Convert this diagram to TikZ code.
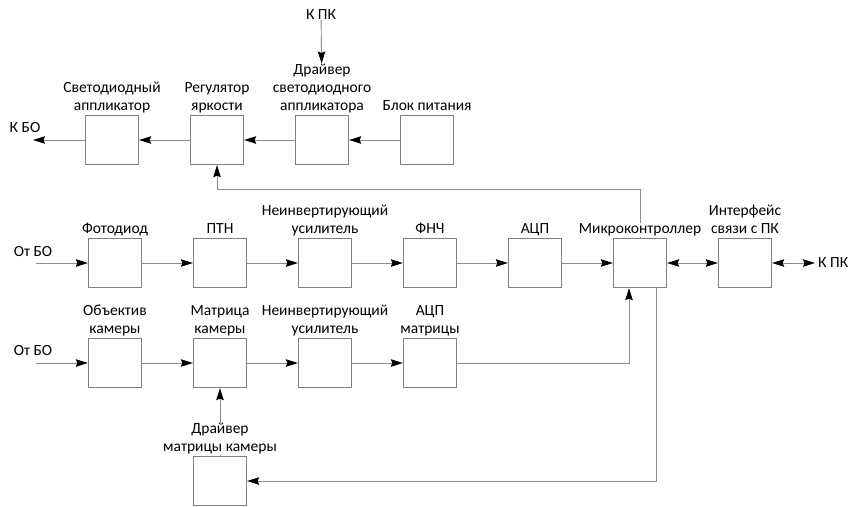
\documentclass[tikz,border=0pt]{standalone}
\usepackage{fontspec}
\setmainfont{Carlito}
\usetikzlibrary{positioning,arrows.meta}
\definecolor{boxgray}{gray}{0.5}
\definecolor{linegray}{gray}{0.55}

\begin{document}
\begin{tikzpicture}[x=1pt, y=-1pt,
        box/.style = {draw=boxgray, line width=1.3pt, minimum width=53pt, minimum height=49pt, inner sep=0pt},
        lbl/.style = {align=center, font=\fontsize{15.5}{18}\selectfont, inner sep=0pt, fill=white, text depth=3.5pt},
        txt/.style = {font=\fontsize{15.5}{18}\selectfont, inner sep=0pt},
        link/.style = {draw=linegray, line width=0.9pt},
        arr/.style = {link, -{Stealth[length=12pt, width=7.5pt, inset=1.5pt, black]}},
        darr/.style = {link, {Stealth[length=12pt, width=7.5pt, inset=1.5pt, black]}-{Stealth[length=12pt, width=7.5pt, inset=1.5pt, black]}}]
        \useasboundingbox (0,0) rectangle (858,506);
        % top row
        \node[box] (led) at (112,140) {};
        \node[box] (reg) at (217,140) {};
        \node[box] (drv) at (322,140) {};
        \node[box] (psu) at (427,140) {};
        % photodiode row
        \node[box] (phd) at (115,263) {};
        \node[box] (ptn) at (220,263) {};
        \node[box] (amp1) at (325,263) {};
        \node[box] (lpf) at (430,263) {};
        \node[box] (adc) at (535,263) {};
        \node[box] (mcu) at (640,263) {};
        \node[box] (ifc) at (745,263) {};
        % camera row
        \node[box] (lens) at (115,363) {};
        \node[box] (mtx) at (220,363) {};
        \node[box] (amp2) at (325,363) {};
        \node[box] (adc2) at (430,363) {};
        \node[box] (mdrv) at (220,481) {};
        % outer ends
        \node[txt] (kbo) at (25,128) {К БО};
        \coordinate (kboend) at (33,140);
        \node[txt] (kpk1) at (321,15) {К ПК};
        \node[txt] (in1) at (33,252) {От БО};
        \coordinate (in1end) at (36,263);
        \node[txt] (in2) at (33,351) {От БО};
        \coordinate (in2end) at (36,363);
        \node[txt, anchor=west] (kpk2) at (818,263) {К ПК};

        \draw[arr] (psu) -- (drv);
        \draw[arr] (drv) -- (reg);
        \draw[arr] (reg) -- (led);
        \draw[arr] (led) -- (kboend);
        \draw[arr] (mcu.north) -- ++(0,-48) -| (reg.south);

        \draw[arr] (in1end) -- (phd);
        \draw[arr] (phd) -- (ptn);
        \draw[arr] (ptn) -- (amp1);
        \draw[arr] (amp1) -- (lpf);
        \draw[arr] (lpf) -- (adc);
        \draw[arr] (adc) -- (mcu);
        \draw[darr] (mcu) -- (ifc);
        \draw[darr] (ifc) -- ([xshift=-3pt]kpk2.west);

        \draw[arr] (in2end) -- (lens);
        \draw[arr] (lens) -- (mtx);
        \draw[arr] (mtx) -- (amp2);
        \draw[arr] (amp2) -- (adc2);
        \draw[arr] (adc2) -| ([xshift=-11pt]mcu.south);
        \draw[arr] ([xshift=16pt]mcu.south) |- (mdrv);
        \draw[arr] (mdrv) -- (mtx);

        % labels
        \node[lbl, above=1pt of led] (ledl) {Светодиодный\\аппликатор};
        \node[lbl, above=1pt of reg] (regl) {Регулятор\\яркости};
        \node[lbl, above=1pt of drv] (drvl) {Драйвер\\светодиодного\\аппликатора};
        \node[lbl, above=1pt of psu] (psul) {Блок питания};
        \node[lbl, above=1pt of phd] (phdl) {Фотодиод};
        \node[lbl, above=1pt of ptn] (ptnl) {ПТН};
        \node[lbl, above=1pt of amp1] (amp1l) {Неинвертирующий\\усилитель};
        \node[lbl, above=1pt of lpf] (lpfl) {ФНЧ};
        \node[lbl, above=1pt of adc] (adcl) {АЦП};
        \node[lbl, above=1pt of mcu] (mcul) {Микроконтроллер};
        \node[lbl, above=1pt of ifc] (ifcl) {Интерфейс\\связи с ПК};
        \node[lbl, above=1pt of lens] (lensl) {Объектив\\камеры};
        \node[lbl, above=1pt of mtx] (mtxl) {Матрица\\камеры};
        \node[lbl, above=1pt of amp2] (amp2l) {Неинвертирующий\\усилитель};
        \node[lbl, above=1pt of adc2] (adc2l) {АЦП\\матрицы};
        \node[lbl, above=1pt of mdrv] (mdrvl) {Драйвер\\матрицы камеры};

        \draw[arr] (kpk1) -- (drvl);
    \end{tikzpicture}
\end{document}
